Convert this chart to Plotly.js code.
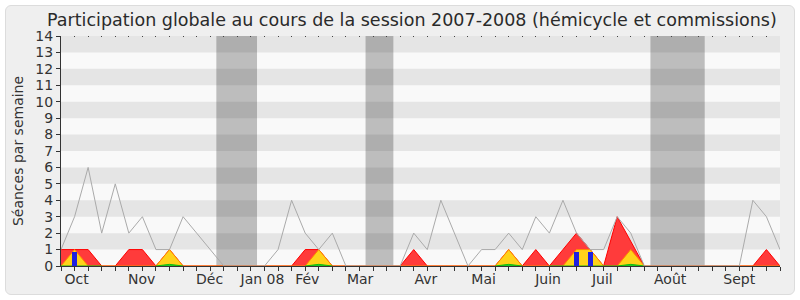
<!DOCTYPE html>
<html>
<head>
<meta charset="utf-8">
<script src="https://cdn.plot.ly/plotly-3.0.1.min.js"></script>
<style>
  html, body { margin:0; padding:0; background:#ffffff; }
  #panel { position:absolute; left:5px; top:5px; width:790px; height:290px; box-sizing:border-box;
           background:#efefef; border:1px solid #dcdcdc; border-radius:6px; }
  #chart { position:absolute; left:0; top:0; width:800px; height:300px; }
</style>
</head>
<body>
<div id="panel"></div>
<div id="chart"></div>
<script>
// Weeks of the 2007-2008 session (index 0 = first week of October 2007)
const weeks = Array.from({length: 54}, (_, i) => i);

// Month labels and their position on the week axis
const monthLabels = ["Oct", "Nov", "Déc", "Jan 08", "Fév", "Mar", "Avr", "Mai", "Juin", "Juil", "Août", "Sept"];
const monthPos    = [1.15, 5.95, 10.95, 14.85, 18.15, 22.05, 26.9, 31.15, 35.9, 39.9, 44.9, 50.0];

// Vacation periods (start / end on the week axis)
const vacStart = [11.45, 22.45, 43.45];
const vacEnd   = [14.45, 24.5, 47.45];

// Gray line: median weekly participation of all deputies
const median = [1,3,6,2,5,2,3,1,1,3,2,1,0,0,0,0,1,4,2,1,2,0,0,0,0,0,2,1,4,2,0,1,1,2,1,3,2,4,2,1,1,3,2,0,0,0,0,0,0,0,0,4,3,1];

// Red area: weekly presences
const presences = [1,1,1,0,0,1,1,0,1,0,0,0,0,0,0,0,0,0,1,1,0,0,0,0,0,0,1,0,0,0,0,0,0,1,0,1,0,1,2,1,0,3,1.5,0,0,0,0,0,0,0,0,0,1,0];

// Yellow area: weekly participations (interventions)
const participations = [0,1,0,0,0,0,0,0,1,0,0,0,0,0,0,0,0,0,0,1,0,0,0,0,0,0,0,0,0,0,0,0,0,1,0,0,0,0,1,1,0,0,1,0,0,0,0,0,0,0,0,0,0,0];

// Green area: weekly long interventions (shown only where visible)
const n = null;
const interventions = [0,0,0,0,n,n,n,0,0.1,0,n,n,n,n,n,n,n,n,0,0.1,0,n,n,n,n,n,n,n,n,n,n,n,0,0.1,0,n,0,0,0,0,0,0,0.1,0,n,n,n,n,n,n,n,n,n,n];

// Blue bars: oral questions
const questionWeeks  = [1, 38, 39];
const questionValues = [0.85, 0.85, 0.85];

const yMax = 14;

const shapes = [];
for (let k = 1; k < yMax; k += 2) {
  shapes.push({type:'rect', xref:'paper', yref:'y', x0:0, x1:1, y0:k, y1:k+1,
               fillcolor:'#e5e5e5', line:{width:0}, layer:'below'});
}
for (let k = 0; k < vacStart.length; k++) {
  shapes.push({type:'rect', xref:'x', yref:'paper', x0:vacStart[k], x1:vacEnd[k], y0:0, y1:1,
               fillcolor:'rgba(0,0,0,0.24)', line:{width:0}, layer:'below'});
}

const traces = [
  {x: weeks, y: presences, type:'scatter', mode:'lines', fill:'tozeroy',
   fillcolor:'#ff3b3b', line:{color:'#ff0000', width:1}, hoverinfo:'skip'},
  {x: weeks, y: participations, type:'scatter', mode:'lines', fill:'tozeroy',
   fillcolor:'#ffd21a', line:{color:'#ff8800', width:1}, hoverinfo:'skip'},
  {x: weeks, y: interventions, type:'scatter', mode:'lines', fill:'tozeroy',
   fillcolor:'#22cc22', line:{color:'#11bb11', width:1}, connectgaps:false, hoverinfo:'skip'},
  {x: weeks, y: median, type:'scatter', mode:'lines',
   line:{color:'#aaaaaa', width:1}, hoverinfo:'skip'},
  {x: questionWeeks, y: questionValues, type:'bar', width:0.37, xaxis:'x2', yaxis:'y2',
   marker:{color:'#2020e0', line:{width:0}}, hoverinfo:'skip'}
];

const layout = {
  width: 800, height: 300,
  margin: {l:61, r:20, t:36, b:34, pad:0},
  paper_bgcolor: 'rgba(0,0,0,0)',
  plot_bgcolor: '#f9f9f9',
  showlegend: false,
  font: {family:'DejaVu Sans', size:13, color:'#333333'},
  title: {text:'Participation globale au cours de la session 2007-2008 (hémicycle et commissions)',
          font:{family:'DejaVu Sans', size:17.5, color:'#2a2a2a'},
          xref:'paper', x:0.488, xanchor:'center', yref:'container', y:0.933, yanchor:'middle'},
  xaxis: {range:[0, 53], showgrid:false, zeroline:false, showline:true, linecolor:'#333333', linewidth:1,
          tickmode:'array', tickvals: monthPos, ticktext: monthLabels, ticks:'', ticklen:0,
          tickfont:{family:'DejaVu Sans', size:14, color:'#333333'},
          minor:{tickmode:'linear', tick0:0, dtick:1, ticks:'outside', ticklen:4, tickcolor:'#333333', showgrid:false},
          fixedrange:true},
  xaxis2: {range:[0, 53], overlaying:'x', side:'top', anchor:'y2', showgrid:false, zeroline:false, showline:false,
           tickmode:'linear', tick0:0, dtick:1, ticks:'inside', ticklen:1, tickcolor:'#444444',
           showticklabels:false, fixedrange:true},
  yaxis: {range:[0, yMax], showgrid:false, zeroline:false, showline:true, linecolor:'#333333', linewidth:1,
          tickmode:'linear', tick0:0, dtick:1, ticks:'outside', ticklen:4, tickcolor:'#333333',
          tickfont:{family:'DejaVu Sans', size:14, color:'#333333'},
          title:{text:'Séances par semaine', font:{family:'DejaVu Sans', size:14, color:'#333333'}, standoff:8},
          fixedrange:true},
  yaxis2: {range:[0, yMax], overlaying:'y', anchor:'x2', side:'left', visible:false, fixedrange:true},
  bargap: 0,
  shapes: shapes
};

Plotly.newPlot('chart', traces, layout, {staticPlot:true, displayModeBar:false});
</script>
</body>
</html>
